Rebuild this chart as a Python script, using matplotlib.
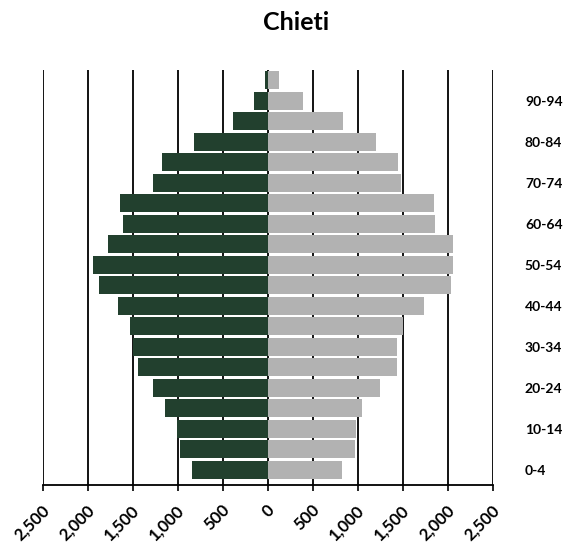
"""
Population pyramid for Chieti: males on the left, females on the right,
five-year age groups from 0-4 up to 95+.
"""

import matplotlib
matplotlib.use("Agg")
import matplotlib.pyplot as plt
from matplotlib.ticker import FuncFormatter
from matplotlib.transforms import ScaledTranslation

age_groups = ["0-4", "5-9", "10-14", "15-19", "20-24", "25-29", "30-34",
              "35-39", "40-44", "45-49", "50-54", "55-59", "60-64", "65-69",
              "70-74", "75-79", "80-84", "85-89", "90-94", "95+"]
males = [850, 975, 1010, 1140, 1280, 1440, 1505, 1530, 1670, 1875,
         1950, 1780, 1610, 1640, 1280, 1180, 820, 390, 155, 30]
females = [820, 965, 980, 1045, 1245, 1430, 1430, 1505, 1735, 2035,
           2055, 2060, 1860, 1840, 1480, 1445, 1200, 830, 390, 120]
xticks = [-2500, -2000, -1500, -1000, -500, 0, 500, 1000, 1500, 2000, 2500]

plt.rcParams['font.family'] = ['Lato', 'DejaVu Sans']

fig = plt.figure(figsize=(5.69, 5.47), dpi=100)
ax = fig.add_axes([0.0756, 0.1133, 0.7908, 0.7587])

y = list(range(len(age_groups)))
ax.barh(y, [-m for m in males], height=0.88, color='#22402e', zorder=2)
ax.barh(y, females, height=0.88, color='#b2b2b2', zorder=2)

ax.set_xlim(-2500, 2500)
ax.set_ylim(-0.75, 19.5)

# vertical gridlines behind the bars
ax.set_xticks(xticks)
ax.xaxis.set_major_formatter(FuncFormatter(lambda v, p: f"{abs(int(v)):,}"))
ax.grid(axis='x', color='black', linewidth=1.3)
ax.set_axisbelow(True)

for s in ['top', 'left', 'right']:
    ax.spines[s].set_visible(False)
ax.spines['bottom'].set_linewidth(1.3)
ax.tick_params(axis='x', length=4, width=1.2, pad=12)
shift = ScaledTranslation(4 / 100, 0, fig.dpi_scale_trans)
for lab in ax.get_xticklabels():
    lab.set_rotation(45)
    lab.set_ha('right')
    lab.set_va('center')
    lab.set_rotation_mode('anchor')
    lab.set_fontsize(12)
    lab.set_fontweight('bold')
    lab.set_transform(lab.get_transform() + shift)

# age labels on the right, every other group
ax.yaxis.tick_right()
ax.set_yticks(y[::2])
ax.set_yticklabels(age_groups[::2], fontsize=10, fontweight='bold')
ax.tick_params(axis='y', length=0, pad=23)

fig.text(0.521, 0.958, "Chieti", ha='center', va='center',
         fontsize=18, fontweight='bold')

fig.savefig("out.png", dpi=100)
